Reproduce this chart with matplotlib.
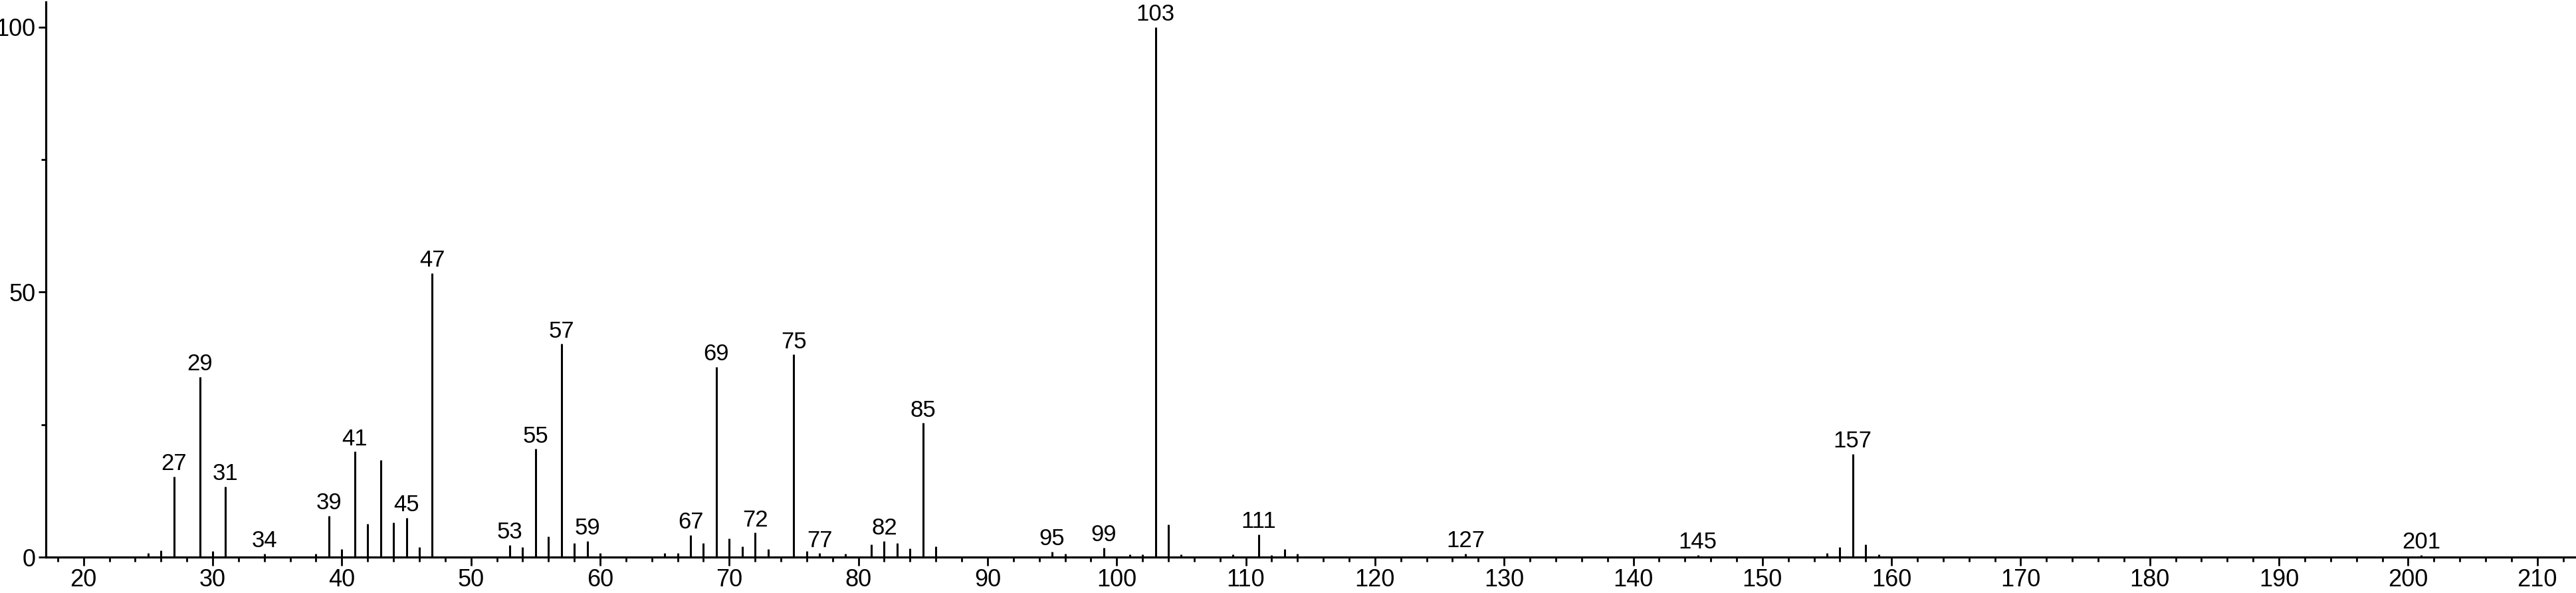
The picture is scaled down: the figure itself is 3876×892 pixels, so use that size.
"""
Mass spectrum (EI), relative abundance vs m/z
"""
import matplotlib
matplotlib.use('Agg')
import matplotlib.pyplot as plt
from matplotlib.ticker import MultipleLocator

# m/z and relative intensity (%)
mz = [25, 26, 27, 29, 30, 31, 34, 38, 39, 40, 41, 42, 43, 44, 45, 46, 47,
      53, 54, 55, 56, 57, 58, 59, 60, 65, 66, 67, 68, 69, 70, 71, 72, 73,
      75, 76, 77, 79, 81, 82, 83, 84, 85, 86, 95, 96, 99, 101, 102, 103,
      104, 105, 109, 111, 112, 113, 114, 127, 145, 155, 156, 157, 158, 159, 201]
inten = [0.7, 1.2, 15.2, 34.0, 1.1, 13.3, 0.6, 0.6, 7.8, 1.5, 19.9, 6.3, 18.3, 6.5, 7.4, 1.9, 53.6,
         2.3, 1.9, 20.4, 3.9, 40.2, 2.6, 3.0, 0.7, 0.8, 0.8, 4.2, 2.7, 35.9, 3.5, 2.0, 4.6, 1.5,
         38.2, 1.1, 0.7, 0.6, 2.4, 3.0, 2.7, 1.6, 25.3, 2.0, 1.0, 0.6, 1.8, 0.5, 0.5, 100.0,
         6.2, 0.5, 0.5, 4.3, 0.4, 1.5, 0.6, 0.6, 0.4, 0.7, 1.9, 19.5, 2.4, 0.5, 0.4]
labelled = [27, 29, 31, 34, 39, 41, 45, 47, 53, 55, 57, 59, 67, 69, 72, 75, 77,
            82, 85, 95, 99, 103, 111, 127, 145, 157, 201]

plt.rcParams.update({'font.family': ['Liberation Sans', 'DejaVu Sans']})

fig = plt.figure(figsize=(38.76, 8.92), dpi=100)
ax = fig.add_axes([0.0178, 0.0605, 0.9822, 0.936])

ax.vlines(mz, 0, inten, colors='black', lw=2.2)
for m, v in zip(mz, inten):
    if m in labelled:
        ax.annotate(str(m), (m, v), xytext=(0, 2), textcoords='offset points',
                    ha='center', va='bottom', fontsize=25)

ax.set_xlim(17.08, 213.0)
ax.set_ylim(0, 104.7)
for s in ['top', 'right']:
    ax.spines[s].set_visible(False)
for s in ['left', 'bottom']:
    ax.spines[s].set_linewidth(2.3)

ax.xaxis.set_major_locator(MultipleLocator(10))
ax.xaxis.set_minor_locator(MultipleLocator(2))
ax.yaxis.set_major_locator(MultipleLocator(50))
ax.yaxis.set_minor_locator(MultipleLocator(25))
ax.tick_params(axis='both', which='major', direction='out', width=2.0, length=9, color='black')
ax.tick_params(axis='both', which='minor', direction='out', width=2.0, length=5, color='black')
ax.tick_params(axis='x', which='major', pad=3)
ax.tick_params(axis='y', which='major', pad=3, length=8)
for lab in ax.get_xticklabels() + ax.get_yticklabels():
    lab.set_fontfamily(['Liberation Sans Narrow', 'Liberation Sans'])
    lab.set_fontsize(26)

fig.savefig('out.png', dpi=100)
plt.close()
